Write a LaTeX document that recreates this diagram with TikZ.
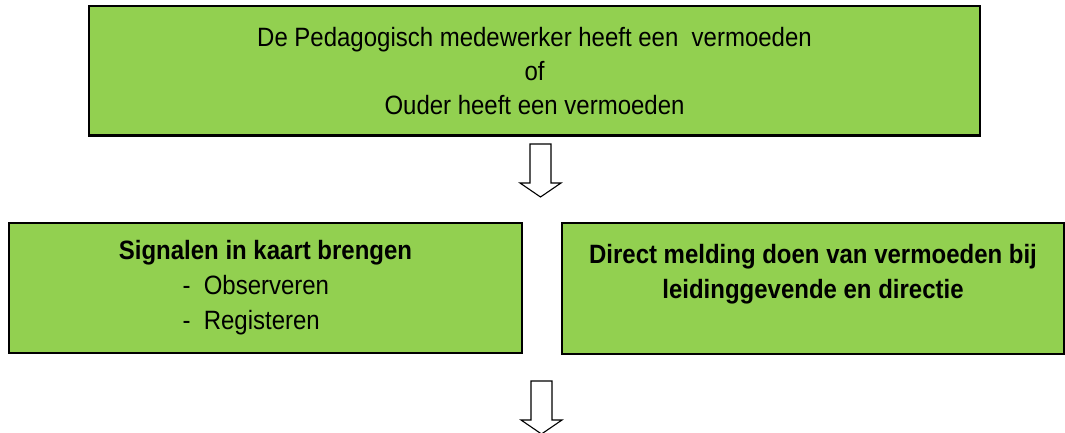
\documentclass[tikz,border=0pt]{standalone}
\usepackage{fontspec}
\setmainfont{Liberation Sans}[FakeStretch=0.905]
\definecolor{boxgreen}{RGB}{146,208,80}
\tikzset{
    greenbox/.style={draw, fill=boxgreen, line width=1.5pt, inner sep=0pt,
                     align=center, font=\fontsize{26.5}{35}\selectfont},
    blockarrow/.style={draw, fill=white, line width=1.1pt, line join=miter}
}
\newcommand{\blockdown}[1]{%
    \draw[blockarrow] (#1) ++(-10.5,0) -- ++(21,0) -- ++(0,39) -- ++(10,0)
        -- ++(-20.5,14) -- ++(-20.5,-14) -- ++(10,0) -- cycle;}
\begin{document}
\begin{tikzpicture}[x=1pt, y=-1pt]
            \useasboundingbox (0,0) rectangle (1065,433);
            \node[greenbox, line width=2.2pt, minimum width=891pt, minimum height=129.5pt,
                  font=\fontsize{26.5}{34}\selectfont] (vermoeden) at (534.5,70.75)
                {De Pedagogisch medewerker heeft een\ \ vermoeden\\ of\\ Ouder heeft een vermoeden};
            \node[greenbox, minimum width=513pt, minimum height=130pt] (signalen) at (265.5,288)
                {\textbf{Signalen in kaart brengen}\\
                 \makebox[166pt][l]{-\ \ Observeren}\\
                 \makebox[166pt][l]{-\ \ Registeren}};
            \node[greenbox, minimum width=502pt, minimum height=131pt] (direct) at (813,288.5)
                {\textbf{Direct melding doen van vermoeden bij}\\
                 \textbf{leidinggevende en directie}\\ \mbox{}};
            \coordinate (pijl1) at (540.5,144);
            \coordinate (pijl2) at (541.5,381);
            \blockdown{pijl1}
            \blockdown{pijl2}
        \end{tikzpicture}
\end{document}
